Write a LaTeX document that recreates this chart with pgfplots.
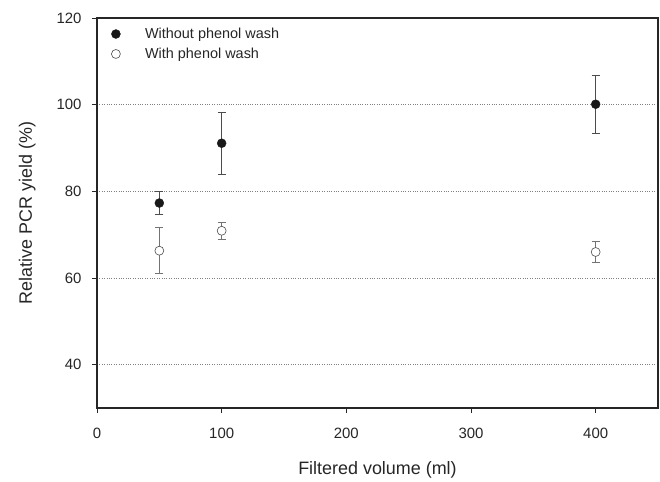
\documentclass[border=0pt]{standalone}
\usepackage{fontspec}
\setmainfont{Liberation Sans}
\usepackage{pgfplots}
\pgfplotsset{compat=1.18}
\begin{document}
\begin{tikzpicture}[x=1bp,y=1bp]
\begin{axis}[
  at={(0,0)}, anchor=south west,
  scale only axis, width=561bp, height=390bp,
  xmin=0, xmax=450, ymin=30, ymax=120,
  xtick={0,100,200,300,400}, ytick={40,60,80,100,120},
  axis line style={line width=1.2pt, black!85},
  tick style={line width=0.8pt, black!85},
  tick align=outside, major tick length=5bp,
  xtick pos=bottom, ytick pos=left,
  ymajorgrids, grid style={dotted, line width=0.8pt, gray},
  /pgf/number format/assume math mode=true,
  ticklabel style={font=\fontsize{15}{17}\selectfont, text=black!85},
  xticklabel style={yshift=-12bp},
  yticklabel style={xshift=-7bp},
  label style={font=\fontsize{18}{20}\selectfont, text=black!85},
  xlabel={Filtered volume (ml)}, xlabel style={yshift=-16bp},
  ylabel={Relative PCR yield (\%)}, ylabel style={yshift=14bp},
  legend style={draw=none, fill=none, at={(0.01,0.985)}, anchor=north west, font=\fontsize{14.5}{16}\selectfont, row sep=4bp, text=black!85},
  legend cell align=left,
  legend image code/.code={\draw[#1] plot coordinates {(0.35cm,0cm)};\path (0,0) (1.3cm,0);},
  clip=false,
]
\addplot[only marks, mark=*, mark size=4.5pt, mark options={fill=black!90, draw=black!90},
  error bars/.cd, y dir=both, y explicit, error bar style={line width=0.8pt, black!70}, error mark options={rotate=90, mark size=4bp, line width=0.8pt, black!70}]
  coordinates {
  (50,77.3) +- (0,2.6)
  (100,91.1) +- (0,7.2)
  (400,100.1) +- (0,6.7)
  };
\addlegendentry{Without phenol wash}
\addplot[only marks, mark=*, mark size=4.5pt, mark options={fill=white, draw=black!70, line width=0.6pt},
  error bars/.cd, y dir=both, y explicit, error bar style={line width=0.8pt, black!55}, error mark options={rotate=90, mark size=4bp, line width=0.8pt, black!55}]
  coordinates {
  (50,66.3) +- (0,5.3)
  (100,70.9) +- (0,2.0)
  (400,66.0) +- (0,2.4)
  };
\addlegendentry{With phenol wash}
\end{axis}
\pgfresetboundingbox
\path[use as bounding box] (-97bp,-74bp) rectangle (563bp,408bp);
\end{tikzpicture}
\end{document}
